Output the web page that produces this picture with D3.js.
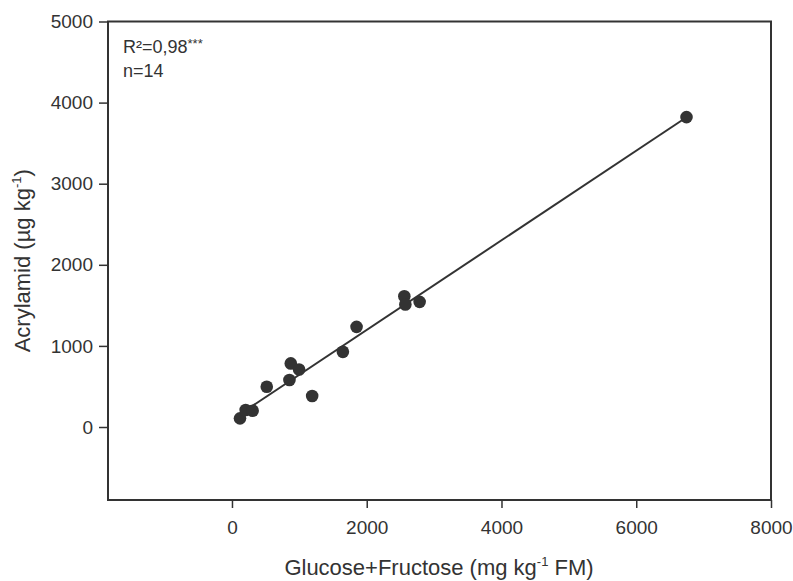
<!DOCTYPE html>
<html>
<head>
<meta charset="utf-8">
<script src="https://cdn.jsdelivr.net/npm/d3@7"></script>
<style>
  html, body { margin: 0; padding: 0; background: #fff; }
  svg { display: block; font-family: "Liberation Sans", Arial, sans-serif; }
</style>
</head>
<body>
<svg id="chart" width="793" height="581"></svg>
<script>
// Data
const sugar = [119, 203, 307, 516, 853, 873, 996, 1190, 1646, 1849, 2558, 2573, 2785, 6746];
const acrylamid = [107, 209, 201, 496, 579, 784, 710, 382, 927, 1235, 1613, 1511, 1543, 3821];
const xTicks = [0, 2000, 4000, 6000, 8000];
const yTicks = [0, 1000, 2000, 3000, 4000, 5000];
const xDomain = [-1840, 8000];
const yDomain = [-900, 5000];
const annotation = ["R²=0,98", "***", "n=14"];

(function () {
const svg = d3.select("#chart");
const mL = 108, mR = 771, mT = 21.5, mB = 500;
const ink = "#333";
const font = "'Liberation Sans', Arial, sans-serif";

const x = d3.scaleLinear().domain(xDomain).range([mL, mR]);
const y = d3.scaleLinear().domain(yDomain).range([mB, mT]);

// frame
svg.append("rect")
  .attr("x", mL).attr("y", mT)
  .attr("width", mR - mL).attr("height", mB - mT)
  .attr("fill", "none").attr("stroke", ink).attr("stroke-width", 2);

// x axis
const xAxis = svg.append("g")
  .attr("transform", `translate(0,${mB})`)
  .call(d3.axisBottom(x).tickValues(xTicks).tickSize(8).tickPadding(13).tickFormat(d3.format("d")));
xAxis.select(".domain").remove();
xAxis.selectAll(".tick line").attr("stroke", ink).attr("stroke-width", 1.5);
xAxis.selectAll(".tick text").attr("fill", ink).style("font-size", "19px").style("font-family", font);

// y axis
const yAxis = svg.append("g")
  .attr("transform", `translate(${mL},0)`)
  .call(d3.axisLeft(y).tickValues(yTicks).tickSize(9).tickPadding(6).tickFormat(d3.format("d")));
yAxis.select(".domain").remove();
yAxis.selectAll(".tick line").attr("stroke", ink).attr("stroke-width", 1.5);
yAxis.selectAll(".tick text").attr("fill", ink).style("font-size", "19px").style("font-family", font);

// regression line (least squares from data)
const mx = d3.mean(sugar), my = d3.mean(acrylamid);
let sxy = 0, sxx = 0;
sugar.forEach((v, i) => { sxy += (v - mx) * (acrylamid[i] - my); sxx += (v - mx) * (v - mx); });
const slope = sxy / sxx, intercept = my - slope * mx;
const [xmin, xmax] = d3.extent(sugar);
svg.append("line")
  .attr("x1", x(xmin)).attr("y1", y(intercept + slope * xmin))
  .attr("x2", x(xmax)).attr("y2", y(intercept + slope * xmax))
  .attr("stroke", ink).attr("stroke-width", 2);

// points
svg.append("g").selectAll("circle")
  .data(sugar.map((v, i) => [v, acrylamid[i]]))
  .join("circle")
  .attr("cx", d => x(d[0])).attr("cy", d => y(d[1]))
  .attr("r", 6.3).attr("fill", ink);

// annotation
const t1 = svg.append("text").attr("x", 123).attr("y", 53)
  .attr("fill", ink).style("font-size", "18px");
t1.append("tspan").text(annotation[0]);
t1.append("tspan").attr("dy", -5).style("font-size", "13px").text(annotation[1]);
svg.append("text").attr("x", 123).attr("y", 77)
  .attr("fill", ink).style("font-size", "18px").text(annotation[2]);

// x title
const xt = svg.append("text").attr("x", 439).attr("y", 575)
  .attr("text-anchor", "middle").attr("fill", ink).style("font-size", "22px");
xt.append("tspan").text("Glucose+Fructose (mg kg");
xt.append("tspan").attr("dy", -9).style("font-size", "13px").text("-1");
xt.append("tspan").attr("dy", 9).text(" FM)");

// y title
const yt = svg.append("text")
  .attr("transform", `translate(30,${(mT + mB) / 2}) rotate(-90)`)
  .attr("text-anchor", "middle").attr("fill", ink).style("font-size", "22px");
yt.append("tspan").text("Acrylamid (µg kg");
yt.append("tspan").attr("dy", -9).style("font-size", "13px").text("-1");
yt.append("tspan").attr("dy", 9).text(")");
})();
</script>
</body>
</html>
